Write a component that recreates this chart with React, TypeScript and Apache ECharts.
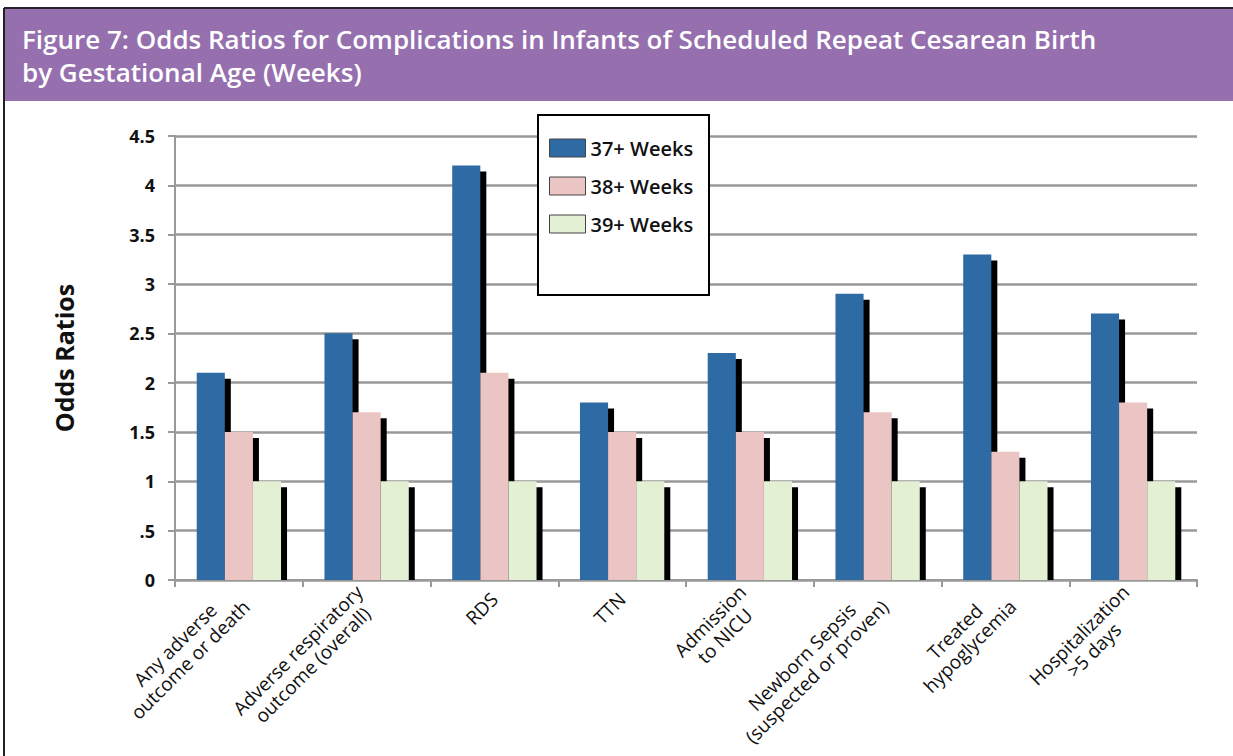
import React, { useEffect, useRef } from "react";
import * as echarts from "echarts";

const categories = [
  "Any adverse\noutcome or death",
  "Adverse respiratory\noutcome (overall)",
  "RDS",
  "TTN",
  "Admission\nto NICU",
  "Newborn Sepsis\n(suspected or proven)",
  "Treated\nhypoglycemia",
  "Hospitalization\n>5 days",
];
const seriesNames = ["37+ Weeks", "38+ Weeks", "39+ Weeks"];
const weeks37 = [2.1, 2.5, 4.2, 1.8, 2.3, 2.9, 3.3, 2.7];
const weeks38 = [1.5, 1.7, 2.1, 1.5, 1.5, 1.7, 1.3, 1.8];
const weeks39 = [1, 1, 1, 1, 1, 1, 1, 1];
const colors = ["#2E6AA4", "#EBC4C4", "#E4F0D4"];
const titleLines = [
  "Figure 7: Odds Ratios for Complications in Infants of Scheduled Repeat Cesarean Birth",
  "by Gestational Age (Weeks)",
];

const FONT = "'Open Sans', Lato, sans-serif";

export default function App() {
  const ref = useRef<HTMLDivElement>(null);
  useEffect(() => {
    document.body.style.margin = "0";
    if (!ref.current) return;
    const chart = echarts.init(ref.current, undefined, { renderer: "svg" });
    const allData = [weeks37, weeks38, weeks39];
    const series = allData.map((vals, si) => ({
      type: "custom",
      name: seriesNames[si],
      itemStyle: { color: colors[si] },
      encode: { x: 0, y: 1 },
      data: vals.map((v, i) => [i, v]),
      z: 2 + si,
      renderItem: (params: any, api: any) => {
        const cat = api.value(0);
        const val = api.value(1);
        const base = api.coord([cat, 0]);
        const top = api.coord([cat, val]);
        const band = api.size([1, 0])[0];
        const w = band * 0.22;
        const x = base[0] + (si - 1.5) * w;
        const off = 6;
        return {
          type: "group",
          children: [
            {
              type: "rect",
              shape: { x: x + off, y: top[1] + off, width: w, height: Math.max(0, base[1] - top[1] - off) },
              style: { fill: "#000" },
            },
            {
              type: "rect",
              shape: { x, y: top[1], width: w, height: base[1] - top[1] },
              style: { fill: colors[si] },
            },
          ],
        };
      },
    }));

    chart.setOption({
      animation: false,
      textStyle: { fontFamily: FONT },
      grid: { left: 175, right: 36, top: 136, bottom: 176, containLabel: false, outerBoundsMode: "none" },
      xAxis: {
        type: "category",
        data: categories,
        axisLine: { show: true, lineStyle: { color: "#999", width: 2 } },
        axisTick: { show: true, length: 7, alignWithLabel: false, lineStyle: { color: "#999", width: 2 } },
        axisLabel: {
          interval: 0,
          rotate: 45,
          margin: 16,
          color: "#111",
          fontSize: 19,
          fontFamily: FONT,
          formatter: (v: string) => v.split("\n").map((l) => "{c|" + l + "}").join("\n"),
          rich: { c: { align: "center", fontSize: 19, fontFamily: FONT, color: "#111", lineHeight: 21 } },
        },
      },
      yAxis: {
        type: "value",
        min: 0,
        max: 4.5,
        interval: 0.5,
        name: "Odds Ratios",
        nameLocation: "middle",
        nameGap: 99,
        nameRotate: 90,
        nameTextStyle: { fontSize: 25, fontWeight: "bold", color: "#111", fontFamily: FONT },
        axisLine: { show: true, lineStyle: { color: "#999", width: 2 } },
        axisTick: { show: true, length: 7, lineStyle: { color: "#999", width: 2 } },
        axisLabel: {
          margin: 20,
          fontSize: 18,
          fontWeight: "bold",
          color: "#111",
          fontFamily: FONT,
          formatter: (v: number) => (v === 0.5 ? ".5" : String(v)),
        },
        splitLine: { show: true, lineStyle: { color: "#999", width: 2.5 } },
      },
      legend: {
        orient: "vertical",
        left: 544,
        top: 131,
        itemWidth: 36,
        itemHeight: 18,
        itemGap: 14,
        icon: "rect",
        z: 20,
        textStyle: { fontSize: 20, lineHeight: 24, fontWeight: 600, color: "#111", fontFamily: FONT },
        data: seriesNames.map((n, i) => ({
          name: n,
          itemStyle: { color: colors[i], borderColor: "#444", borderWidth: 1 },
        })),
      },
      graphic: [
        {
          type: "rect",
          z: 10,
          shape: { x: 4, y: 8, width: 1229, height: 93 },
          style: { fill: "#966FAF" },
        },
        {
          type: "line",
          z: 11,
          shape: { x1: 4, y1: 8, x2: 1233, y2: 8 },
          style: { stroke: "#2a2230", lineWidth: 2 },
        },
        {
          type: "line",
          z: 11,
          shape: { x1: 4, y1: 8, x2: 4, y2: 756 },
          style: { stroke: "#222", lineWidth: 2 },
        },
        {
          type: "text",
          z: 12,
          left: 22,
          top: 26,
          style: { text: titleLines[0], fill: "#fff", font: "600 26px " + FONT },
        },
        {
          type: "text",
          z: 12,
          left: 22,
          top: 59,
          style: { text: titleLines[1], fill: "#fff", font: "600 26px " + FONT },
        },
        {
          type: "rect",
          z: 10,
          shape: { x: 538, y: 115, width: 171, height: 180 },
          style: { fill: "#fff", stroke: "#000", lineWidth: 2 },
        },
      ],
      series,
    });
    return () => chart.dispose();
  }, []);
  return <div ref={ref} style={{ width: 1233, height: 756 }} />;
}
